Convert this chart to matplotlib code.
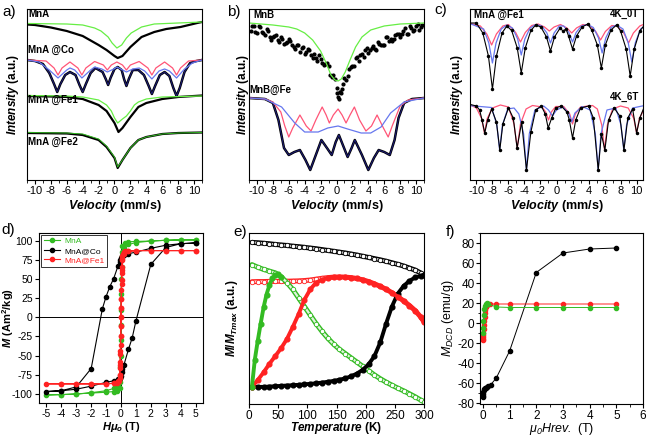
import matplotlib as mpl
mpl.use('Agg')
import matplotlib.pyplot as plt
from matplotlib.ticker import MultipleLocator

plt.rcParams['font.family'] = ['Liberation Sans', 'DejaVu Sans']
plt.rcParams['axes.unicode_minus'] = False
plt.rcParams['mathtext.fontset'] = 'custom'
plt.rcParams['mathtext.it'] = 'Liberation Sans:italic:bold'
plt.rcParams['mathtext.rm'] = 'Liberation Sans:bold'
plt.rcParams['mathtext.bf'] = 'Liberation Sans:bold'
plt.rcParams['mathtext.sf'] = 'Liberation Sans:italic'
plt.rcParams['axes.linewidth'] = 0.8

GREEN_FIT = '#66ee44'
RED_FIT = '#ff5577'
BLUE_FIT = '#6677ee'
NAVY = '#1c1c7a'
GREEN = '#33bb22'
RED = '#ff2222'

# ---------------- a) Moessbauer, MnA series (relative to each baseline) ----------
a_mna_x = [-11, -10, -8, -6, -4, -2, -1, 0, 0.4, 1, 2, 3.4, 5, 6.5, 8.3, 10.4, 11]
a_mna_y = [-2.5, -3, -5.5, -9, -14, -23, -28, -34, -36, -34, -25, -15, -10, -7, -5, -1, 0]
a_mna_fit_x = [-11, -6, -4, -2.5, -1.7, -0.8, -0.3, 0.3, 0.9, 1.5, 2.1, 3.4, 5, 8, 11]
a_mna_fit_y = [-1.5, -2, -3, -6, -9, -15, -21, -26, -23, -16, -11, -5, -2, -1, 0]

a_co_x = [-11, -10, -9.0, -8.2, -7.6, -7.2, -6.8, -6.2, -5.6, -4.9, -4.4, -4.0, -3.6, -3.0,
          -2.4, -1.5, -1.1, -0.8, -0.5, 0, 0.4, 0.9, 1.2, 1.5, 1.8, 2.3, 3.0, 3.7, 4.3, 4.7,
          5.1, 5.7, 6.3, 6.9, 7.4, 7.8, 8.2, 8.8, 9.5, 10.3, 11]
a_co_y = [0, -1, -4, -13, -24, -32, -24, -15, -12, -15, -25, -32, -24, -13,
          -8, -12, -19, -25, -18, -9, -7, -10, -19, -26, -19, -10, -10, -15, -26, -34,
          -26, -15, -12, -16, -28, -36, -28, -12, -3, -1, 0]
a_co_red_x = [-11, -8.6, -7.6, -7.1, -6.6, -5.6, -4.6, -4.1, -3.6, -2.5, -1.4, -0.9, -0.4, 0.3,
              1.0, 1.5, 2.0, 3.1, 4.2, 4.7, 5.2, 6.3, 7.3, 7.8, 8.3, 9.3, 11]
a_co_red_y = [0, -1, -8, -15, -8, -2, -8, -15, -8, -1.5, -5, -10, -5, -2,
              -5, -10, -5, -1.5, -8, -15, -8, -2, -8, -15, -8, -1, 0]
a_co_blue_x = [-11, -9.5, -8.2, -7.1, -6.0, -5.6, -5.0, -4.1, -3.0, -2.5, -1.6, -0.9, -0.1, 0.3,
               0.8, 1.5, 2.3, 3.1, 3.8, 4.7, 5.6, 6.3, 6.9, 7.8, 8.8, 9.8, 11]
a_co_blue_y = [0, -2, -10, -18, -10, -8, -10, -18, -10, -7, -9, -12, -9, -7,
               -9, -12, -9, -8, -11, -19, -11, -9, -11, -18, -9, -3, 0]

a_fe1_x = [-11, -8, -6, -4, -2, -1, 0, 0.5, 1, 2, 3, 4, 6, 8, 10, 11]
a_fe1_y = [0, -0.5, -1, -3, -9, -15, -27, -36, -32, -21, -11, -7, -3, -1, 0, 0.5]
a_fe1_fit_x = [-11, -6, -4, -2, -1, -0.4, 0, 0.4, 1, 1.5, 2, 2.5, 3, 4, 6, 11]
a_fe1_fit_y = [0.5, 0, -1, -4, -9, -15, -22, -27, -23, -20, -15, -9, -6, -3, -1, 0]

a_fe2_x = [-11, -6, -4, -2, -1, 0, 0.4, 1, 2, 3, 4, 6, 8, 11]
a_fe2_y = [0, -0.5, -2, -7, -14, -25, -35, -27, -15, -7, -4, -1, 0, 0.5]
a_fe2_fit_y = [0.5, 0, -1, -6, -13, -24, -34, -27, -15, -7, -4, -1, 0, 0.5]

a_offsets = [-22, -60, -96, -133]

# ---------------- b) MnB ----------------
b_mnb_x = [-10.8, -10.4, -10.0, -9.6, -9.2, -8.8, -8.4, -8.0, -7.6, -7.2, -6.8, -6.4, -6.0,
           -5.6, -5.2, -4.8, -4.4, -4.0, -3.6, -3.2, -2.8, -2.4, -2.0, -1.6, -1.2, -0.8,
           -0.4, 0.0, 0.2, 0.4, 0.6, 0.8, 1.2, 1.6, 2.0, 2.4, 2.8, 3.2, 3.6, 4.0, 4.4, 4.8,
           5.2, 5.6, 6.0, 6.4, 6.8, 7.2, 7.6, 8.0, 8.4, 8.8, 9.2, 9.6, 10.0, 10.4, 10.8,
           -10.6, -10.2, -9.8, -9.4, -9.0, -8.6, -8.2, -7.8, -7.4, -7.0, -6.6, -6.2, -5.8,
           -5.4, -5.0, -4.6, -4.2, -3.8, -3.4, -3.0, -2.6, -2.2, -1.8, -1.4, -1.0, -0.6,
           -0.2, 0.1, 0.3, 0.5, 0.7, 1.0, 1.4, 1.8, 2.2, 2.6, 3.0, 3.4, 3.8, 4.2, 4.6, 5.0,
           5.4, 5.8, 6.2, 6.6, 7.0, 7.4, 7.8, 8.2, 8.6, 9.0, 9.4, 9.8, 10.2, 10.6]
b_mnb_y = [-8, -3.5, -10, -4.5, -10, -6.5, -14, -14, -12, -19, -16, -20.5, -16,
           -22.5, -26, -22, -25.5, -31, -26, -32, -31, -38, -36, -42, -40, -52,
           -52, -65, -74, -69, -70, -61, -57, -46, -43, -35, -38, -31, -27, -30, -25, -26.5,
           -19, -22, -22, -14.5, -16, -16.5, -11, -14, -8, -11, -3, -8, -3, -7, -2,
           -3.2, -8.8, -2.8, -9.2, -11.8, -8.2, -17, -13.5, -17.5, -14.5, -20.8, -19.2, -17.8,
           -24.2, -22.5, -28.8, -24.2, -29, -27, -35, -35, -32, -40.5, -41.5, -43.5, -54,
           -56, -70, -76.5, -69, -66, -55, -53, -44, -43, -34, -32.5, -34, -25, -27.5, -23.2,
           -26.8, -21, -22, -14.2, -17.8, -18.2, -11.8, -11.5, -11.5, -5.5, -11.5, -5.5,
           -7.5, -1.5, -4.5]
b_mnb_fit_x = [-11, -8, -6, -5, -4, -3, -2, -1.3, -0.7, -0.2, 0.2, 0.6, 1.1, 1.7, 2.4, 3.2,
               4.3, 6, 8, 11]
b_mnb_fit_y = [0, -2, -4, -6, -10, -17, -28, -40, -52, -57, -58, -56, -49, -37, -24, -14,
               -7, -3, -1, 0]

b_fe_x = [-11, -9, -8, -7.3, -6.6, -6.0, -5.3, -4.6, -3.9, -3.3, -2.6, -1.9, -1.2, -0.6,
          -0.1, 0.3, 0.8, 1.4, 1.9, 2.3, 3.2, 4.0, 4.7, 5.3, 6.0, 6.7, 7.3, 7.8, 8.5, 9.5, 11]
b_fe_y = [0, -1, -5, -22, -50, -57, -54, -52, -62, -72, -57, -42, -50, -57,
          -44, -37, -47, -59, -50, -42, -57, -72, -60, -52, -54, -57, -42, -20, -5, -1, 0]
b_fe_red_x = [-11, -9, -8, -7, -6.5, -6.0, -5.5, -4.6, -3.8, -3.2, -2.6, -1.8, -1.3, -0.9,
              -0.4, 0.2, 0.7, 1.2, 1.7, 2.25, 2.9, 3.7, 4.4, 5.1, 5.9, 6.5, 7.0, 8.0, 9.0, 11]
b_fe_red_y = [0, -1, -4, -14, -28, -39, -30, -17, -28, -33, -22, -9, -17, -25,
              -17, -11, -17, -25, -17, -9, -22, -33, -28, -17, -30, -39, -28, -8, -2, 0]
b_fe_blue_x = [-11, -9, -6.9, -5.25, -4, -2.3, -1.1, 0.2, 1.4, 3.1, 4.3, 5.6, 6.8, 8.5, 11]
b_fe_blue_y = [0, -1, -9, -25, -34, -34, -30, -28, -31, -35, -35, -29, -15, -4, 0]

b_offsets = [-23, -98]

# ---------------- c) MnA@Fe1 at 4 K ----------------
c_0t_x = [-11, -10, -9.2, -8.5, -8.0, -7.5, -6.8, -6.2, -5.6, -4.9, -4.4, -3.9, -3.2, -2.6,
          -1.95, -1.25, -0.75, -0.25, 0.45, 0.8, 1.2, 1.5, 2.0, 2.5, 3.2, 3.9, 4.4, 5.1,
          5.6, 6.1, 6.8, 7.5, 8.0, 8.7, 9.2, 9.7, 10.4, 11]
c_0t_y = [0, 0, -10, -33, -66, -33, -10, -3, -7.5, -25, -50, -25, -7.5, -2,
          -4, -14, -28, -14, -5, -8, -6, -13, -26, -13, -4, -1, -7, -22,
          -45, -22, -7, -2, -8, -26, -53, -26, -8, -2]
c_0t_red_x = [-11, -9.5, -8.7, -8.1, -7.5, -6.7, -6.0, -5.1, -4.5, -3.9, -3.1, -2.3, -1.5, -0.9,
              -0.3, 0.5, 1.3, 1.9, 2.5, 3.3, 4.1, 4.9, 5.5, 6.1, 6.9, 7.6, 8.4, 9.0, 9.6,
              10.4, 11]
c_0t_red_y = [0, -3, -11, -22, -11, -3, -1.5, -9.5, -19, -9.5, -2.5, -1, -4, -8,
              -4, -1.5, -5, -10, -5, -1.5, -2.5, -8.5, -17, -8.5, -2.5, -3, -10, -20, -10,
              -3, -1]
c_0t_blue_x = [-11, -9.1, -8.45, -8.0, -7.55, -6.9, -6.2, -5.5, -4.85, -4.4, -3.95, -3.3, -2.6,
               -1.85, -1.2, -0.75, -0.3, 0.35, 0.9, 1.55, 2.0, 2.45, 3.1, 3.9, 4.6, 5.25,
               5.7, 6.15, 6.8, 7.5, 8.3, 8.95, 9.4, 9.85, 10.5, 11]
c_0t_blue_y = [0, -6, -20, -40, -20, -6, -2, -5, -16, -32, -16, -5, -1.5,
               -3, -10, -20, -10, -3, -3, -9.5, -19, -9.5, -3, -1.5, -4.5, -15,
               -30, -15, -4.5, -2, -6, -19.5, -39, -19.5, -6, -3]

c_6t_x = [-11, -10.0, -9.6, -9.3, -8.96, -8.6, -8.1, -7.5, -7.08, -6.7, -6.0, -5.4, -4.92,
          -4.35, -3.75, -3.2, -2.6, -1.9, -1.4, -1.04, -0.6, -0.1, 0.6, 1.3, 1.6, 2.0, 2.4,
          3.0, 4.0, 4.6, 5.21, 5.6, 6.04, 6.5, 7.2, 7.9, 8.42, 8.9, 9.5, 10.0, 10.4, 11]
c_6t_y = [0, -2, -6, -16, -29, -16, -5, -18, -46, -20, -4, -14, -44,
          -18, -66, -28, -6, -2, -10, -24, -14, -4, -2, -8, -16, -34, -16,
          -4, -2, -14, -66, -30, -46, -16, -4, -12, -46, -14, -5, -29, -14, -2]
c_6t_red_x = [-11, -10.0, -9.35, -9.0, -8.65, -8.0, -7.0, -6.0, -5.3, -4.9, -4.5, -3.8, -3.0,
              -1.8, -1.35, -1.0, -0.65, -0.1, 0.9, 1.65, 2.0, 2.35, 3.0, 4.5, 5.1, 5.65, 6.0,
              6.35, 7.0, 8.0, 8.95, 9.65, 10.0, 10.35, 11]
c_6t_red_y = [0, -4, -14.5, -29, -14.5, -4, -1, -3, -20, -44, -20, -5, -1.5,
              -3, -8, -16, -8, -2.5, -2.5, -10, -20, -10, -3, -1.5, -5, -21, -46,
              -21, -5, -2, -4, -14.5, -29, -14.5, -4]
c_6t_blue_x = [-11, -8.1, -7.45, -7.1, -6.75, -6.1, -5.3, -4.7, -4.1, -3.75, -3.4, -2.7, -1.6,
               -1.0, -0.5, 0.0, 0.8, 1.5, 1.9, 2.3, 3.2, 4.2, 4.85, 5.2, 5.55, 6.3, 7.4,
               8.05, 8.4, 8.75, 9.5, 11]
c_6t_blue_y = [-1.5, -3.5, -21, -46, -21, -5, -4, -10, -30, -66, -30, -6, -2,
               -6, -12, -6, -3, -9, -18, -9, -2.5, -6, -30, -66, -30, -6, -4,
               -21, -46, -21, -4, -1.5]

c_offsets = [-23, -104]

# ---------------- d) hysteresis loops ----------------
d_mna_H = [5, 4, 3, 2, 1, 0.5, 0.25, 0.1, 0.05, 0.02, 0, -0.02, -0.05, -0.1, -0.2, -0.5, -1,
           -2, -3, -4, -5, -4, -3, -2, -1, -0.5, -0.25, -0.1, -0.05, -0.02, 0, 0.02, 0.05,
           0.1, 0.2, 0.5, 1, 2, 3, 4, 5]
d_mna_M = [101, 101, 100.5, 99.5, 99, 98.5, 97.5, 93, 80, 50, 10, -30, -65, -85, -90, -93, -96,
           -98.5, -100.5, -101, -101.5, -101, -100, -99, -98, -97, -96, -92, -80, -50, -10,
           30, 65, 85, 90, 95, 97.5, 99.5, 100.5, 101, 101]
d_co_H = [5, 4, 3, 2, 1, 0.5, 0.2, 0.1, 0.05, 0, -0.05, -0.1, -0.2, -0.5, -0.75, -1, -1.25, -2,
          -3, -4, -5, -4, -3, -2, -1, -0.5, -0.2, -0.1, -0.05, 0, 0.05, 0.1, 0.2, 0.5, 0.75,
          1, 2, 3, 4, 5]
d_co_M = [97, 96, 94, 90, 85, 83, 81, 80, 79, 77, 75, 72, 67, 50, 40, 27, 11, -67,
          -91, -96, -97, -96, -94, -90, -85, -83, -81, -80, -79, -77, -72, -67, -62, -42,
          -27, -5, 69, 91, 96, 97]
d_fe_H = [5, 4, 3, 2, 1, 0.5, 0.3, 0.2, 0.15, 0.1, 0.08, 0.06, 0.05, 0.04, 0.03, 0.02, 0.01, 0,
          -0.01, -0.02, -0.04, -0.06, -0.1, -0.2, -0.5, -1, -2, -3, -4, -5,
          -4, -3, -2, -1, -0.5, -0.3, -0.2, -0.15, -0.1, -0.08, -0.06, -0.05, -0.04, -0.03,
          -0.02, -0.01, 0, 0.01, 0.02, 0.04, 0.06, 0.1, 0.2, 0.5, 1, 2, 3, 4, 5]
d_fe_M = [87, 87, 87, 87, 87, 86.5, 86, 85, 83, 80, 75, 66, 58, 48, 36, 24, 12, 0,
          -12, -24, -44, -62, -76, -83, -86, -87, -87, -87, -87, -87,
          -87, -87, -87, -87, -86.5, -86, -85, -83, -80, -75, -66, -58, -48, -36,
          -24, -12, 0, 12, 24, 44, 62, 76, 83, 86, 87, 87, 87, 87, 87]

# ---------------- e) ZFC / FC ----------------
e_T = [5, 15, 25, 35, 45, 55, 65, 75, 85, 95, 105, 115, 125, 135, 145, 155, 165, 175, 185,
       195, 205, 215, 225, 235, 245, 255, 265, 275, 285, 295, 300]
e_co_fc = [.945, .943, .94, .937, .933, .93, .927, .923, .92, .916, .912, .908, .903, .898,
           .893, .888, .883, .877, .871, .864, .857, .85, .843, .835, .826, .817, .807, .795,
           .783, .765, .754]
e_co_zfc = [.10, .10, .10, .102, .104, .106, .108, .11, .112, .115, .118, .121, .125, .13,
            .135, .142, .15, .162, .178, .2, .232, .28, .36, .47, .57, .645, .69, .72, .74,
            .75, .754]
e_fe_fc = [.715, .716, .716, .717, .717, .718, .718, .719, .72, .722, .725, .73, .735, .739,
           .742, .743, .742, .739, .734, .726, .716, .703, .688, .671, .651, .628, .603, .576,
           .546, .506, .48]
e_fe_zfc = [.10, .14, .185, .235, .28, .326, .38, .45, .525, .61, .67, .71, .727, .737, .742,
            .743, .742, .739, .734, .726, .716, .703, .688, .671, .651, .628, .603, .576,
            .546, .506, .48]
e_mna_fc = [.815, .80, .787, .777, .767, .745, .71, .67, .62, .57, .52, .47, .425, .385, .35,
            .32, .295, .27, .245, .22, .195, .17, .148, .128, .11, .093, .077, .06, .042,
            .022, .013]
e_mna_zfc_T = [5, 10, 15, 20, 25, 30, 35, 40, 45, 50, 55]
e_mna_zfc = [.10, .26, .37, .47, .565, .64, .695, .735, .755, .76, .745]

# ---------------- f) DCD ----------------
f_co_H = [0, 0.005, 0.01, 0.02, 0.03, 0.05, 0.07, 0.1, 0.15, 0.2, 0.3, 0.5, 1, 2, 3, 4, 5]
f_co_M = [-74, -73, -71, -69, -67, -66, -65, -64.5, -64, -63, -61.5, -55, -28, 50.5, 70, 74, 75]
f_fe_H = [0, 0.005, 0.01, 0.015, 0.02, 0.03, 0.04, 0.05, 0.06, 0.07, 0.08, 0.1, 0.12, 0.15,
          0.2, 0.25, 0.5, 1, 2, 3, 4, 5]
f_fe_M = [-17, -16, -14, -12, -10, -6, -2, 2, 6, 10, 13, 16, 17.5, 18, 19.5, 19, 19, 19, 19,
          19, 19, 19]
f_mna_H = [0, 0.01, 0.02, 0.03, 0.05, 0.07, 0.1, 0.15, 0.2, 0.5, 1, 2, 3, 4, 5]
f_mna_M = [-10, -5, 2, 8, 14, 17, 19, 20, 19, 16, 15.5, 15.5, 15.5, 15.5, 15.5]


def shift(vals, off):
    return [v + off for v in vals]


def place_labels(ax, xl, yl):
    # fixed label centres in axes fraction
    ax.xaxis.set_label_coords(0.5, xl)
    ax.xaxis.label.set_verticalalignment('center')
    ax.yaxis.set_label_coords(yl, 0.5)
    ax.yaxis.label.set_verticalalignment('center')


def moss_axes(ax, ylx):
    ax.set_xlim(-11, 11)
    ax.set_ylim(-180, -9)
    ax.set_xticks(range(-10, 11, 2))
    ax.xaxis.set_minor_locator(MultipleLocator(1))
    ax.set_yticks([])
    ax.tick_params(axis='x', which='major', direction='out', length=3, labelsize=8, pad=1.5)
    ax.tick_params(axis='x', which='minor', direction='out', length=1.8)
    ax.set_xlabel(r'$Velocity$ (mm/s)', fontsize=9, fontweight='bold')
    ax.set_ylabel(r'$Intensity$ (a.u.)', fontsize=8.5, fontweight='bold')
    place_labels(ax, -0.15, ylx)


def band(ax, x, y, color, hollow):
    # dense measured points drawn as a marker band
    if hollow:
        ax.plot(x, y, color=color, lw=3.6, solid_capstyle='round')
        ax.plot(x, y, color='white', lw=1.6, alpha=0.85, solid_capstyle='round')
        ax.plot(x, y, 'o', color=color, mfc='white', ms=3.2, mew=0.6)
    else:
        ax.plot(x, y, color=color, lw=2.8, solid_capstyle='round')
        ax.plot(x, y, 'o', color=color, ms=3.4)


fig = plt.figure(figsize=(6.5, 4.36), dpi=100)

# ---- a
ax = fig.add_axes([27 / 650, 1 - 180 / 436, 175 / 650, 171 / 436])
moss_axes(ax, -0.08)
ax.plot(a_mna_x, shift(a_mna_y, a_offsets[0]), color='k', lw=1.6)
ax.plot(a_mna_fit_x, shift(a_mna_fit_y, a_offsets[0]), color=GREEN_FIT, lw=0.9)
ax.plot(a_co_x, shift(a_co_y, a_offsets[1]), color='k', lw=1.8)
ax.plot(a_co_x, shift(a_co_y, a_offsets[1]), color=NAVY, lw=0.7)
ax.plot(a_co_red_x, shift(a_co_red_y, a_offsets[1]), color=RED_FIT, lw=0.9)
ax.plot(a_co_blue_x, shift(a_co_blue_y, a_offsets[1]), color=BLUE_FIT, lw=0.9)
ax.plot(a_fe1_x, shift(a_fe1_y, a_offsets[2]), color='k', lw=1.6)
ax.plot(a_fe1_fit_x, shift(a_fe1_fit_y, a_offsets[2]), color=GREEN_FIT, lw=0.9)
ax.plot(a_fe2_x, shift(a_fe2_y, a_offsets[3]), color='k', lw=1.6)
ax.plot(a_fe2_x, shift(a_fe2_fit_y, a_offsets[3]), color=GREEN, lw=0.7)
for txt, yy in [('MnA', -14), ('MnA @Co', -50), ('MnA @Fe1', -100), ('MnA @Fe2', -142)]:
    ax.text(-10.85, yy, txt, fontsize=7, fontweight='bold', va='center')

# ---- b
ax = fig.add_axes([249 / 650, 1 - 180 / 436, 175 / 650, 171 / 436])
moss_axes(ax, -0.035)
ax.plot(b_mnb_x, shift(b_mnb_y, b_offsets[0]), 'o', color='k', ms=2.0)
ax.plot(b_mnb_fit_x, shift(b_mnb_fit_y, b_offsets[0]), color=GREEN_FIT, lw=0.9)
ax.plot(b_fe_x, shift(b_fe_y, b_offsets[1]), color='k', lw=1.8)
ax.plot(b_fe_x, shift(b_fe_y, b_offsets[1]), color=NAVY, lw=0.7)
ax.plot(b_fe_red_x, shift(b_fe_red_y, b_offsets[1]), color=RED_FIT, lw=0.9)
ax.plot(b_fe_blue_x, shift(b_fe_blue_y, b_offsets[1]), color=BLUE_FIT, lw=0.9)
ax.text(-10.5, -15, 'MnB', fontsize=7, fontweight='bold', va='center')
ax.text(-10.9, -90, 'MnB@Fe', fontsize=7, fontweight='bold', va='center')

# ---- c
ax = fig.add_axes([470 / 650, 1 - 180 / 436, 173 / 650, 171 / 436])
moss_axes(ax, -0.075)
ax.set_xlim(-10.8, 10.8)
ax.plot(c_0t_red_x, shift(c_0t_red_y, c_offsets[0]), color=RED_FIT, lw=0.9)
ax.plot(c_0t_blue_x, shift(c_0t_blue_y, c_offsets[0]), color=BLUE_FIT, lw=0.9)
ax.plot(c_0t_x, shift(c_0t_y, c_offsets[0]), '-o', color='k', lw=0.8, ms=1.5)
ax.plot(c_6t_red_x, shift(c_6t_red_y, c_offsets[1]), color=RED_FIT, lw=0.9)
ax.plot(c_6t_blue_x, shift(c_6t_blue_y, c_offsets[1]), color=BLUE_FIT, lw=0.9)
ax.plot(c_6t_x, shift(c_6t_y, c_offsets[1]), '-o', color='k', lw=0.8, ms=1.5)
ax.text(-10.3, -15, 'MnA @Fe1', fontsize=7, fontweight='bold', va='center')
ax.text(10.3, -14, '4K_0T', fontsize=7, fontweight='bold', va='center', ha='right')
ax.text(10.3, -97, '4K_6T', fontsize=7, fontweight='bold', va='center', ha='right')

# ---- d
ax = fig.add_axes([39 / 650, 1 - 403 / 436, 164 / 650, 170 / 436])
ax.axhline(0, color='k', lw=0.7)
ax.axvline(0, color='k', lw=0.7)
ax.plot(d_mna_H, d_mna_M, '-o', color=GREEN, lw=0.8, ms=3, label='MnA')
ax.plot(d_co_H, d_co_M, '-o', color='k', lw=0.8, ms=3, label='MnA@Co')
ax.plot(d_fe_H, d_fe_M, '-o', color=RED, lw=0.8, ms=3, label='MnA@Fe1')
ax.set_xlim(-5.5, 5.5)
ax.set_ylim(-112, 110)
ax.set_xticks(range(-5, 6))
ax.set_yticks(range(-100, 101, 25))
ax.tick_params(direction='out', length=3, labelsize=7.5, pad=1.5)
ax.set_xlabel(r'$H\mu_o$ (T)', fontsize=8, fontweight='bold')
ax.set_ylabel(r'$M$ (Am$^2$/kg)', fontsize=8, fontweight='bold')
place_labels(ax, -0.14, -0.19)
leg = ax.legend(loc='upper left', fontsize=6, labelcolor='linecolor', frameon=True,
                fancybox=False, edgecolor='k', handlelength=2.0, borderpad=0.3,
                labelspacing=0.2, handletextpad=0.5, borderaxespad=0.25)
leg.get_frame().set_linewidth(0.7)

# ---- e
ax = fig.add_axes([249 / 650, 1 - 404 / 436, 175 / 650, 171 / 436])
band(ax, e_T, e_co_fc, 'k', True)
band(ax, e_T, e_fe_fc, RED, True)
band(ax, e_T, e_mna_fc, GREEN, True)
band(ax, e_T, e_co_zfc, 'k', False)
band(ax, e_T, e_fe_zfc, RED, False)
band(ax, e_mna_zfc_T, e_mna_zfc, GREEN, False)
ax.set_xlim(0, 300)
ax.set_ylim(0, 1)
ax.set_xticks(range(0, 301, 50))
ax.set_yticks([])
ax.tick_params(direction='out', length=3, labelsize=8.5, pad=1)
ax.set_xlabel(r'$Temperature$ (K)', fontsize=8.5, fontweight='bold')
ax.set_ylabel(r'$M/M_{Tmax}$ (a.u.)', fontsize=8.5, fontweight='bold')
place_labels(ax, -0.143, -0.1)

# ---- f
ax = fig.add_axes([480 / 650, 1 - 404 / 436, 163 / 650, 171 / 436])
ax.plot(f_co_H, f_co_M, '-o', color='k', lw=0.7, ms=3)
ax.plot(f_fe_H, f_fe_M, '-o', color=RED, lw=0.7, ms=3)
ax.plot(f_mna_H, f_mna_M, '-o', color=GREEN, lw=0.7, ms=3)
ax.set_xlim(-0.11, 6)
ax.set_ylim(-81, 90)
ax.set_xticks(range(0, 7))
ax.set_yticks(range(-80, 81, 20))
ax.xaxis.set_minor_locator(MultipleLocator(0.5))
ax.yaxis.set_minor_locator(MultipleLocator(10))
ax.tick_params(which='major', direction='out', length=3, labelsize=8.5, pad=1)
ax.tick_params(which='minor', direction='out', length=1.8)
ax.set_xlabel(r'$\mathsf{\mu}_\mathsf{0}\mathsf{Hrev.}$ (T)', fontsize=9)
ax.set_ylabel(r'$\mathsf{M}_\mathsf{DCD}$ (emu/g)', fontsize=9)
place_labels(ax, -0.148, -0.195)

# panel letters
for lbl, px, py in [('a)', 2, 12), ('b)', 227, 12), ('c)', 434, 10),
                    ('d)', 1, 230), ('e)', 233, 232), ('f)', 446, 232)]:
    fig.text(px / 650, 1 - py / 436, lbl, fontsize=11, va='center', ha='left')

fig.savefig('out.png', dpi=100)
